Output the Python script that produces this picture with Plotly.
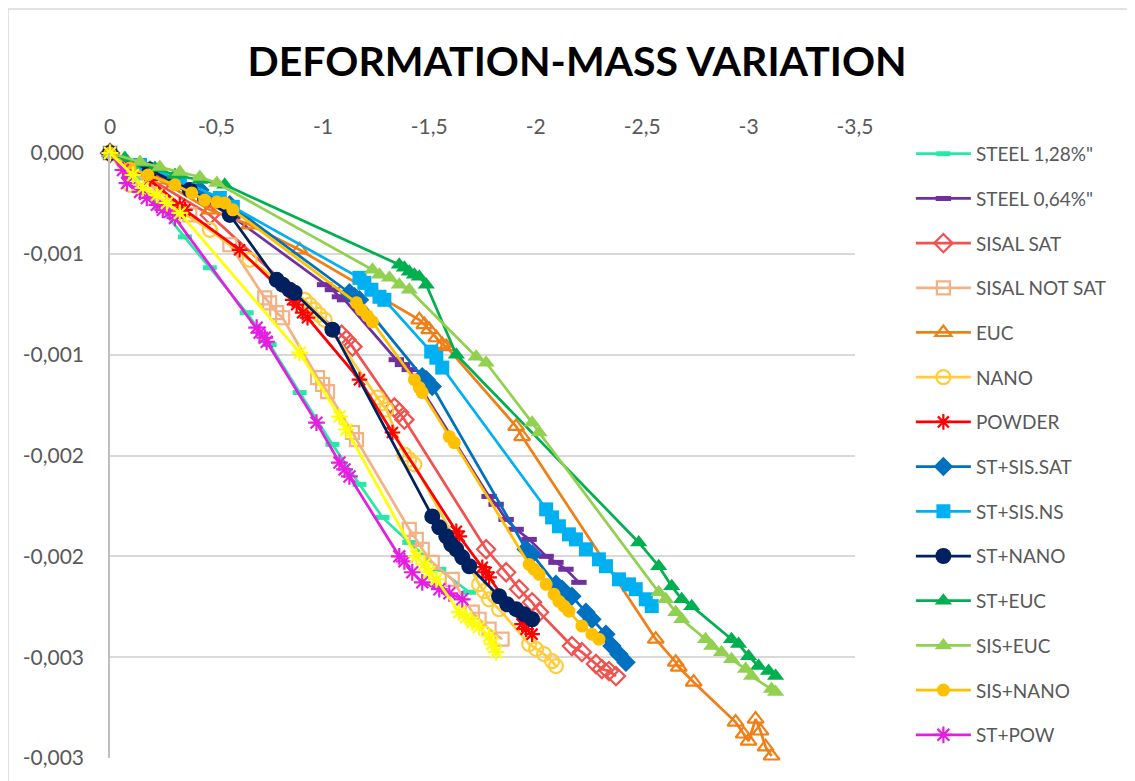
import plotly.graph_objects as go

# ---- data (x = deformation, y = mass variation) ----
steel128_x = [0, -0.117, -0.234, -0.352, -0.469, -0.642, -0.750, -0.891, -1.045, -1.172, -1.280, -1.406, -1.547, -1.688]
steel128_y = [0, -0.000124, -0.000267, -0.000416, -0.000569, -0.000792, -0.000950, -0.001188, -0.001445, -0.001643, -0.001807, -0.001931, -0.002064, -0.002178]

steel064_x = [0, -0.141, -0.305, -0.445, -0.577, -1.008, -1.045, -1.078, -1.102, -1.345, -1.374, -1.406, -1.781, -1.814, -1.861, -1.908, -1.969, -2.049, -2.095, -2.142, -2.203]
steel064_y = [0, -0.0000743, -0.000158, -0.000233, -0.000317, -0.000653, -0.000678, -0.000713, -0.000728, -0.001025, -0.001049, -0.001074, -0.001703, -0.001742, -0.001817, -0.001866, -0.001916, -0.002000, -0.002030, -0.002064, -0.002129]

sisal_sat_x = [0, -0.234, -0.469, -1.088, -1.111, -1.139, -1.336, -1.359, -1.383, -1.767, -1.861, -1.922, -1.983, -2.016, -2.170, -2.217, -2.283, -2.311, -2.344, -2.377]
sisal_sat_y = [0, -0.000158, -0.000307, -0.000901, -0.000926, -0.000960, -0.001262, -0.001287, -0.001322, -0.001965, -0.002079, -0.002163, -0.002228, -0.002277, -0.002445, -0.002475, -0.002534, -0.002559, -0.002569, -0.002594]

sisal_ns_x = [0, -0.188, -0.375, -0.563, -0.727, -0.750, -0.783, -0.811, -0.975, -0.999, -1.022, -1.139, -1.158, -1.406, -1.439, -1.467, -1.514, -1.608, -1.702, -1.734, -1.781, -1.842]
sisal_ns_y = [0, -0.000158, -0.000307, -0.000455, -0.000718, -0.000743, -0.000792, -0.000817, -0.001114, -0.001148, -0.001183, -0.001386, -0.001421, -0.001866, -0.001916, -0.001965, -0.002030, -0.002114, -0.002277, -0.002312, -0.002361, -0.002411]

euc_x = [0, -0.234, -0.469, -0.656, -0.891, -1.453, -1.477, -1.500, -1.533, -1.561, -1.580, -1.908, -1.936, -2.564, -2.658, -2.672, -2.742, -2.939, -2.977, -3.000, -3.033, -3.056, -3.080, -3.108]
euc_y = [0, -0.000134, -0.000282, -0.000356, -0.000480, -0.000827, -0.000851, -0.000876, -0.000916, -0.000950, -0.000960, -0.001356, -0.001406, -0.002411, -0.002525, -0.002549, -0.002624, -0.002822, -0.002881, -0.002916, -0.002807, -0.002866, -0.002945, -0.002990]

nano_x = [0, -0.094, -0.281, -0.469, -0.656, -0.914, -0.938, -0.961, -0.984, -1.008, -1.256, -1.275, -1.299, -1.383, -1.406, -1.430, -1.734, -1.758, -1.781, -1.828, -1.969, -2.002, -2.039, -2.077, -2.095]
nano_y = [0, -0.000158, -0.000257, -0.000381, -0.000530, -0.000728, -0.000752, -0.000777, -0.000802, -0.000827, -0.001213, -0.001242, -0.001272, -0.001495, -0.001520, -0.001544, -0.002138, -0.002173, -0.002213, -0.002262, -0.002435, -0.002460, -0.002485, -0.002520, -0.002544]

powder_x = [0, -0.188, -0.328, -0.352, -0.609, -0.858, -0.877, -0.905, -0.928, -1.172, -1.327, -1.627, -1.641, -1.749, -1.767, -1.781, -1.936, -1.955, -1.983]
powder_y = [0, -0.000134, -0.000257, -0.000282, -0.000480, -0.000728, -0.000752, -0.000792, -0.000817, -0.001124, -0.001386, -0.001876, -0.001901, -0.002054, -0.002079, -0.002104, -0.002336, -0.002361, -0.002386]

st_sis_sat_x = [0, -0.188, -0.422, -0.563, -1.125, -1.149, -1.172, -1.467, -1.486, -1.514, -1.955, -1.983, -2.095, -2.124, -2.170, -2.236, -2.264, -2.330, -2.358, -2.391, -2.424]
st_sis_sat_y = [0, -0.0000842, -0.000183, -0.000257, -0.000693, -0.000713, -0.000728, -0.001109, -0.001124, -0.001158, -0.001965, -0.001990, -0.002139, -0.002163, -0.002198, -0.002277, -0.002312, -0.002386, -0.002445, -0.002485, -0.002525]

st_sis_ns_x = [0, -0.141, -0.328, -0.516, -0.577, -1.172, -1.195, -1.228, -1.266, -1.289, -1.509, -1.533, -1.561, -2.049, -2.077, -2.109, -2.156, -2.189, -2.236, -2.297, -2.330, -2.391, -2.438, -2.470, -2.517, -2.545]
st_sis_ns_y = [0, -0.0000594, -0.000134, -0.000223, -0.000267, -0.000619, -0.000644, -0.000678, -0.000713, -0.000728, -0.000985, -0.001015, -0.001064, -0.001767, -0.001807, -0.001851, -0.001891, -0.001916, -0.001965, -0.002015, -0.002049, -0.002114, -0.002139, -0.002163, -0.002213, -0.002247]

st_nano_x = [0, -0.188, -0.375, -0.563, -0.783, -0.811, -0.844, -0.867, -1.045, -1.514, -1.547, -1.580, -1.603, -1.627, -1.655, -1.688, -1.828, -1.866, -1.908, -1.945, -1.983]
st_nano_y = [0, -0.0000842, -0.000183, -0.000307, -0.000629, -0.000653, -0.000678, -0.000693, -0.000876, -0.001802, -0.001856, -0.001901, -0.001940, -0.001965, -0.002005, -0.002049, -0.002198, -0.002238, -0.002262, -0.002287, -0.002312]

st_euc_x = [0, -0.070, -0.141, -0.211, -0.305, -0.422, -0.539, -1.359, -1.383, -1.406, -1.430, -1.453, -1.486, -1.627, -2.484, -2.578, -2.639, -2.686, -2.733, -2.920, -2.953, -3.000, -3.047, -3.094, -3.127]
st_euc_y = [0, -0.0000248, -0.0000495, -0.0000743, -0.000109, -0.000134, -0.000158, -0.000554, -0.000569, -0.000589, -0.000604, -0.000614, -0.000653, -0.001000, -0.001931, -0.002049, -0.002148, -0.002213, -0.002247, -0.002411, -0.002435, -0.002495, -0.002544, -0.002569, -0.002594]

sis_euc_x = [0, -0.141, -0.234, -0.328, -0.422, -0.502, -1.233, -1.266, -1.313, -1.359, -1.406, -1.720, -1.767, -1.983, -2.016, -2.578, -2.611, -2.658, -2.686, -2.798, -2.827, -2.873, -2.920, -2.986, -3.014, -3.108, -3.127]
sis_euc_y = [0, -0.0000446, -0.0000693, -0.0000941, -0.000119, -0.000149, -0.000579, -0.000604, -0.000619, -0.000653, -0.000678, -0.001010, -0.001040, -0.001337, -0.001386, -0.002178, -0.002213, -0.002277, -0.002312, -0.002411, -0.002445, -0.002475, -0.002510, -0.002559, -0.002594, -0.002658, -0.002673]

sis_nano_x = [0, -0.094, -0.178, -0.305, -0.384, -0.445, -0.502, -0.539, -0.577, -1.158, -1.181, -1.209, -1.233, -1.430, -1.453, -1.467, -1.594, -1.617, -1.969, -1.992, -2.016, -2.049, -2.086, -2.109, -2.133, -2.156, -2.217, -2.264, -2.297]
sis_nano_y = [0, -0.0000743, -0.000109, -0.000158, -0.000198, -0.000233, -0.000243, -0.000248, -0.000282, -0.000743, -0.000777, -0.000807, -0.000837, -0.001124, -0.001163, -0.001188, -0.001406, -0.001436, -0.002040, -0.002064, -0.002089, -0.002139, -0.002188, -0.002223, -0.002247, -0.002272, -0.002346, -0.002386, -0.002411]

st_pow_x = [0, -0.061, -0.080, -0.141, -0.173, -0.220, -0.248, -0.281, -0.305, -0.689, -0.703, -0.727, -0.736, -0.970, -1.078, -1.102, -1.125, -1.359, -1.383, -1.420, -1.467, -1.547, -1.594, -1.655]
st_pow_y = [0, -0.0000842, -0.000149, -0.000193, -0.000223, -0.000257, -0.000282, -0.000292, -0.000322, -0.000866, -0.000891, -0.000916, -0.000936, -0.001337, -0.001535, -0.001569, -0.001604, -0.002000, -0.002025, -0.002079, -0.002129, -0.002163, -0.002183, -0.002213]

extra_x = [0, -0.108, -0.155, -0.220, -0.267, -0.328, -0.891, -1.078, -1.111, -1.439, -1.477, -1.500, -1.533, -1.641, -1.673, -1.702, -1.734, -1.781, -1.795, -1.814]
extra_y = [0, -0.000109, -0.000173, -0.000208, -0.000248, -0.000297, -0.000990, -0.001307, -0.001371, -0.002000, -0.002040, -0.002079, -0.002114, -0.002277, -0.002302, -0.002327, -0.002351, -0.002396, -0.002435, -0.002475]

x_tickvals = [0, -0.5, -1, -1.5, -2, -2.5, -3, -3.5]
x_ticktext = ["0", "-0,5", "-1", "-1,5", "-2", "-2,5", "-3", "-3,5"]
y_tickvals = [0, -0.0005, -0.001, -0.0015, -0.002, -0.0025, -0.003]
y_ticktext = ["0,000", "-0,001", "-0,001", "-0,002", "-0,002", "-0,003", "-0,003"]

# name, x, y, color, symbol, size, kind, in legend
series = [
    ("STEEL 1,28%\"", steel128_x, steel128_y, "#27E8A6", "line-ew", 10, "bar", True),
    ("STEEL 0,64%\"", steel064_x, steel064_y, "#7030A0", "line-ew", 11, "bar", True),
    ("SISAL SAT", sisal_sat_x, sisal_sat_y, "#F2524F", "diamond-open", 14, "open", True),
    ("SISAL NOT SAT", sisal_ns_x, sisal_ns_y, "#F4B183", "square-open", 13, "open", True),
    ("EUC", euc_x, euc_y, "#F07F17", "triangle-up-open", 14, "open", True),
    ("NANO", nano_x, nano_y, "#FFCD3C", "circle-open", 14, "open", True),
    ("POWDER", powder_x, powder_y, "#FF0000", "asterisk-open", 13, "star", True),
    ("ST+SIS.SAT", st_sis_sat_x, st_sis_sat_y, "#0070C0", "diamond", 15, "fill", True),
    ("ST+SIS.NS", st_sis_ns_x, st_sis_ns_y, "#00B0F0", "square", 14, "fill", True),
    ("ST+NANO", st_nano_x, st_nano_y, "#002060", "circle", 16, "fill", True),
    ("ST+EUC", st_euc_x, st_euc_y, "#00B050", "triangle-up", 15, "fill", True),
    ("SIS+EUC", sis_euc_x, sis_euc_y, "#92D050", "triangle-up", 15, "fill", True),
    ("SIS+NANO", sis_nano_x, sis_nano_y, "#FFC000", "circle", 13, "fill", True),
    ("ST+POW", st_pow_x, st_pow_y, "#E41EE0", "asterisk-open", 14, "star", True),
    ("", extra_x, extra_y, "#FFFF00", "asterisk-open", 14, "star", False),
]

fig = go.Figure()
for i, (name, xs, ys, col, sym, sz, kind, show) in enumerate(series):
    if kind == "fill":
        marker = dict(symbol=sym, size=sz, color=col, line=dict(width=0))
    elif kind == "bar":
        marker = dict(symbol=sym, size=sz, color=col, line=dict(width=5, color=col))
    else:
        marker = dict(symbol=sym, size=sz, color=col, line=dict(width=2.2, color=col))
    fig.add_trace(go.Scatter(
        x=xs, y=ys, name=name, mode="lines+markers",
        line=dict(color=col, width=2.75), marker=marker,
        showlegend=show, legendgroup="g%d" % i, cliponaxis=False,
    ))

fig.update_layout(
    width=1127, height=773,
    margin=dict(l=102, r=280, t=145, b=23),
    paper_bgcolor="white", plot_bgcolor="white",
    font=dict(family="Lato, 'Open Sans', sans-serif", size=18, color="#595959"),
    title=dict(text="<b>DEFORMATION-MASS VARIATION</b>", x=0.505, xanchor="center",
               y=0.930, yanchor="middle",
               font=dict(family="Lato, sans-serif", size=41, color="black")),
    xaxis=dict(side="top", range=[0, -3.5], tickvals=x_tickvals, ticktext=x_ticktext,
               showgrid=False, zeroline=False, showline=False, ticks="",
               ticklabelstandoff=14,
               tickfont=dict(size=21, color="#595959")),
    yaxis=dict(range=[-0.003, 0], tickvals=y_tickvals, ticktext=y_ticktext,
               showgrid=True, gridcolor="#D9D9D9", gridwidth=1.5, zeroline=False,
               showline=True, linecolor="#BFBFBF", linewidth=1.5, ticks="",
               ticklabelstandoff=20,
               tickfont=dict(size=21, color="#595959")),
    legend=dict(x=1.075, y=1.03, xanchor="left", yanchor="top",
                font=dict(size=19, color="#595959"), itemwidth=55,
                tracegroupgap=17, maxheight=760, bgcolor="rgba(0,0,0,0)"),
    shapes=[dict(type="rect", xref="paper", yref="paper",
                 x0=-102 / 745, x1=1.40, y0=-0.06, y1=1.238,
                 line=dict(color="#D9D9D9", width=1.5))],
)

fig.write_html("out.html")
